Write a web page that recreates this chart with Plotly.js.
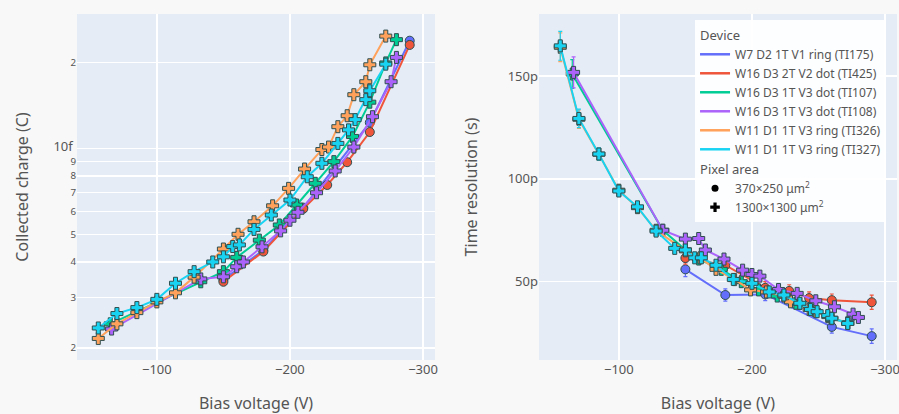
<!DOCTYPE html>
<html>
<head>
<meta charset="utf-8">
<script src="https://cdn.plot.ly/plotly-3.0.1.min.js"></script>
<style>html,body{margin:0;padding:0;background:#f8f8f8;}</style>
</head>
<body>
<div id="chart" style="width:899px;height:414px;"></div>
<script>
// Device names and colors
const devices = ["W7 D2 1T V1 ring (TI175)", "W16 D3 2T V2 dot (TI425)", "W16 D3 1T V3 dot (TI107)",
                 "W16 D3 1T V3 dot (TI108)", "W11 D1 1T V3 ring (TI326)", "W11 D1 1T V3 ring (TI327)"];
const colors = ["#636efa", "#EF553B", "#00cc96", "#ab63fa", "#FFA15A", "#19d3f3"];
const pixelArea = ["370×250 μm<sup>2</sup>", "1300×1300 μm<sup>2</sup>"];
const symbols = ["circle", "cross"];
const devicePixel = [0, 0, 1, 1, 1, 1];

// Bias voltage (V)
const v_TI175 = [-150, -180, -210, -260, -290];
const v_TI425 = [-150, -180, -210, -228, -243, -260, -290];
const v_TI107 = [-65, -133, -150, -160, -177, -192, -205, -219, -233, -247, -260, -272, -280];
const v_TI108 = [-66, -133, -150, -160, -165, -179, -193, -200, -206, -220, -234, -248, -262, -276, -280];
const v_TI326 = [-56, -70, -85, -100, -114, -128, -150, -161, -173, -187, -199, -211, -224, -229, -236, -243, -248, -257, -260, -272];
const v_TI327 = [-56, -70, -85, -100, -114, -128, -142, -150, -157, -162, -173, -186, -200, -213, -224, -236, -244, -249, -257, -260, -272];

// Collected charge (fC)
const q_TI175 = [3.47, 4.4, 6.2, 12.3, 23.8];
const q_TI425 = [3.41, 4.35, 6.14, 7.44, 8.94, 11.4, 23.0];
const q_TI107 = [2.43, 3.41, 3.70, 4.15, 4.77, 5.39, 6.33, 7.54, 8.98, 11.0, 14.5, 19.9, 24.0];
const q_TI108 = [2.33, 3.49, 3.55, 3.85, 4.0, 4.52, 5.14, 5.6, 5.97, 6.99, 8.33, 10.1, 12.9, 17.1, 20.8];
const q_TI326 = [2.16, 2.43, 2.66, 2.90, 3.12, 3.54, 4.44, 5.0, 5.53, 6.29, 7.24, 8.46, 9.9, 10.1, 11.9, 13.0, 15.4, 17.1, 19.6, 24.7];
const q_TI327 = [2.35, 2.64, 2.77, 2.96, 3.37, 3.70, 4.0, 4.17, 4.53, 4.59, 5.2, 5.84, 6.59, 7.95, 8.86, 10.4, 11.6, 12.6, 14.8, 15.9, 19.7];

// Time resolution (ps)
const t_TI175 = [56, 43.5, 43.8, 28, 23.5];
const t_TI425 = [61.5, 58, 47, 45.5, 42, 41, 40];
const t_TI107 = [151, 75, 65.5, 61, 56, 50, 46, 43, 39.5, 36, 32.2, 30, null];
const t_TI108 = [151.8, 75, 70.7, 71, 65.4, 61, 55.6, 53.5, 52.7, 46.2, 44.3, 40.7, 37.8, 34.2, 32.6];
const t_TI326 = [164, 129, 112, 94.5, 86, 75, 65, 61.6, 56, 51, 46, 45, 43, 40.2, 39.4, 36.5, 35.4, 33, 32, 29.7];
const t_TI327 = [164.7, 129.4, 112.1, 94.1, 86.4, 74.6, 66.2, 65.4, 61.6, 61.6, 58, 51.1, 49.2, 45, 43.5, 39.5, 36.5, 35.4, 33.5, 32.2, 29.7];

// Time resolution uncertainty (ps)
const e_TI175 = [3.5, 3, 3, 3, 3.5];
const e_TI425 = [3, 3, 3, 3, 3, 3, 3.5];
const e_TI107 = [7, 2.5, 2, 2, 2, 2, 2, 2, 2, 2, 2, 2, 0];
const e_TI108 = [7.5, 2.5, 2.5, 2, 2, 2, 2, 2, 2, 2, 2, 2, 2, 2, 2];
const e_TI326 = [7, 4.5, 3, 2.5, 2, 2, 2, 2, 2, 2, 2, 2, 2, 2, 2, 2, 2, 2, 2, 2];
const e_TI327 = [7, 4.5, 3, 2.5, 2, 2, 2, 2, 2, 2, 2, 2, 2, 2, 2, 2, 2, 2, 2, 2, 2];

const V = [v_TI175, v_TI425, v_TI107, v_TI108, v_TI326, v_TI327];
const Q = [q_TI175, q_TI425, q_TI107, q_TI108, q_TI326, q_TI327];
const T = [t_TI175, t_TI425, t_TI107, t_TI108, t_TI326, t_TI327];
const E = [e_TI175, e_TI425, e_TI107, e_TI108, e_TI326, e_TI327];

const FONT = "Noto Sans, sans-serif";
const TXT = "#555";
const traces = [];

function markerFor(i) {
  return {symbol: symbols[devicePixel[i]], size: devicePixel[i] ? 10 : 9, color: colors[i],
          line: {width: 1, color: "DarkSlateGrey"}};
}

for (let i = 0; i < devices.length; i++) {
  traces.push({
    x: V[i], y: Q[i].map(q => q === null ? null : q * 1e-15), xaxis: "x", yaxis: "y",
    mode: "lines+markers", line: {color: colors[i], width: 2}, marker: markerFor(i),
    showlegend: false, name: devices[i]
  });
}
for (let i = 0; i < devices.length; i++) {
  traces.push({
    x: V[i], y: T[i].map(t => t === null ? null : t * 1e-12), xaxis: "x2", yaxis: "y2",
    mode: "lines+markers", line: {color: colors[i], width: 2}, marker: markerFor(i),
    error_y: {type: "data", array: E[i].map(e => e * 1e-12), visible: true, color: colors[i], thickness: 1.2, width: 2},
    showlegend: false, name: devices[i]
  });
}
// Legend entries
for (let i = 0; i < devices.length; i++) {
  const tr = {x: [null], y: [null], xaxis: "x2", yaxis: "y2", mode: "lines",
              line: {color: colors[i], width: 2.5}, name: devices[i], legendgroup: "device", showlegend: true};
  if (i === 0) tr.legendgrouptitle = {text: "Device", font: {size: 13, color: TXT, family: FONT}};
  traces.push(tr);
}
for (let j = 0; j < pixelArea.length; j++) {
  const tr = {x: [null], y: [null], xaxis: "x2", yaxis: "y2", mode: "markers",
              marker: {color: "black", symbol: symbols[j], size: j ? 8 : 7}, name: pixelArea[j],
              legendgroup: "pixel", showlegend: true};
  if (j === 0) tr.legendgrouptitle = {text: "Pixel area", font: {size: 13, color: TXT, family: FONT}};
  traces.push(tr);
}

const axBase = {gridcolor: "white", gridwidth: 1.5, showline: false, zeroline: false, ticks: "",
                tickfont: {size: 13, color: TXT, family: FONT}, ticklabeloverflow: "allow"};

const layout = {
  width: 899, height: 414,
  margin: {l: 77, r: 2, t: 14, b: 54},
  paper_bgcolor: "#f8f8f8", plot_bgcolor: "#E5ECF6",
  font: {family: FONT, color: TXT, size: 13},
  xaxis: Object.assign({}, axBase, {domain: [0, 0.4366], range: [-40, -309], dtick: 100, anchor: "y",
          title: {text: "Bias voltage (V)", font: {size: 16, color: TXT, family: FONT}}}),
  yaxis: Object.assign({}, axBase, {type: "log", range: [-14.741, -13.530], anchor: "x",
          title: {text: "Collected charge (C)", standoff: 20, font: {size: 16, color: TXT, family: FONT}}}),
  xaxis2: Object.assign({}, axBase, {domain: [0.5634, 1], range: [-40, -309], dtick: 100, anchor: "y2",
          title: {text: "Bias voltage (V)", font: {size: 16, color: TXT, family: FONT}}}),
  yaxis2: Object.assign({}, axBase, {range: [11.9e-12, 180.2e-12], dtick: 50e-12, anchor: "x2",
          title: {text: "Time resolution (s)", standoff: 26, font: {size: 16, color: TXT, family: FONT}}}),
  legend: {x: 0.7537, y: 0.983, xanchor: "left", yanchor: "top", bgcolor: "rgba(255,255,255,0.92)",
           font: {size: 12, color: TXT, family: FONT}, tracegroupgap: 0, traceorder: "grouped"},
  showlegend: true
};

Plotly.newPlot("chart", traces, layout, {displayModeBar: false, staticPlot: true});
</script>
</body>
</html>
